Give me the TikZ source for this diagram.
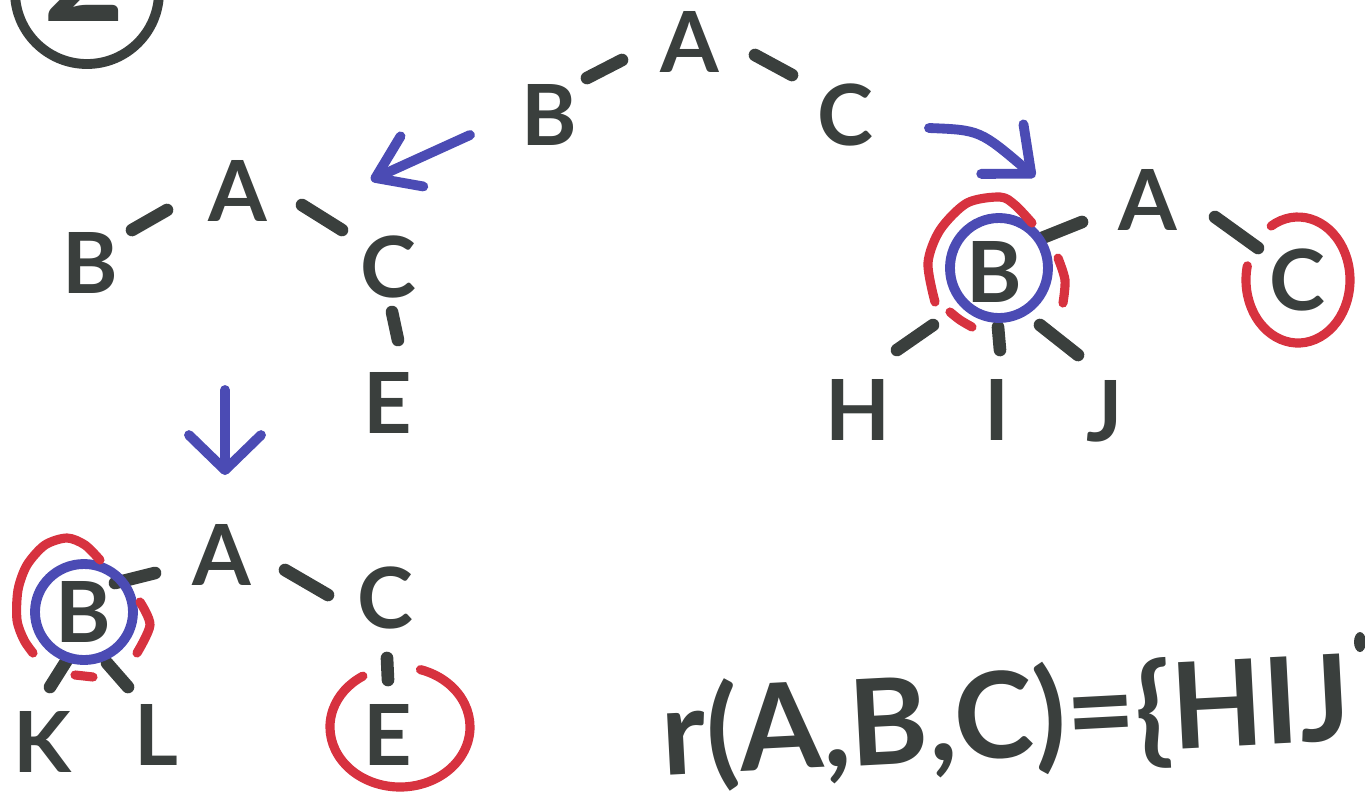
\documentclass[tikz,border=0pt]{standalone}
\usepackage{fontspec}
\setmainfont{Lato}
\usetikzlibrary{calc,arrows.meta}
\definecolor{inkc}{HTML}{3A3F3D}
\definecolor{bluec}{HTML}{4B4BB4}
\definecolor{redc}{HTML}{D7323F}
\tikzset{
  lett/.style={text=inkc, font=\fontsize{24}{28}\selectfont\bfseries, inner sep=0pt},
  formula/.style={text=inkc, font=\fontsize{34}{38}\selectfont\bfseries, inner sep=0pt},
  edge/.style={draw=inkc, line width=3.6pt, line cap=round},
  bstroke/.style={draw=bluec, line width=2.8pt, line cap=round, line join=round},
  rstroke/.style={draw=redc, line width=2.6pt, line cap=round, line join=round},
  kstroke/.style={draw=inkc, line width=2.8pt},
}
\begin{document}
\begin{tikzpicture}[x=0.01cm, y=-0.01cm]
\useasboundingbox (0,0) rectangle (1365,796);
% corner mark
\draw[kstroke] (87,-8) circle [radius=72];
\node[lett, font=\fontsize{40}{44}\selectfont\bfseries] (two) at (84,-30) {2};
% top tree
\node[lett] (tA) at (690,42) {A};
\node[lett] (tB) at (549,115) {B};
\node[lett] (tC) at (845,115) {C};
\draw[edge] ($(tB)+(38,-37)$) -- ($(tA)+(-68,18)$);
\draw[edge] ($(tA)+(65,13)$) -- ($(tC)+(-53,-40)$);
% middle-left tree
\node[lett] (mA) at (238,191) {A};
\node[lett] (mB) at (90,263) {B};
\node[lett] (mC) at (388,267) {C};
\node[lett] (mE) at (388,403) {E};
\draw[edge] ($(mB)+(42,-33)$) -- ($(mA)+(-71,19)$);
\draw[edge] ($(mA)+(64,14)$) -- ($(mC)+(-46,-37)$);
\draw[edge] ($(mC)+(4,45)$) -- ($(mE)+(10,-63)$);
% right tree
\node[lett] (rA) at (1148,200) {A};
\node[lett] (rB) at (994,272) {B};
\node[lett] (rC) at (1297,280) {C};
\node[lett] (rH) at (858,410) {H};
\node[lett] (rI) at (997,410) {I};
\node[lett] (rJ) at (1105,411) {J};
\draw[edge] ($(rB)+(48,-34)$) -- ($(rA)+(-66,22)$);
\draw[edge] ($(rA)+(67,17)$) -- ($(rC)+(-39,-32)$);
\draw[edge] ($(rB)+(-61,53)$) -- ($(rH)+(39,-60)$);
\draw[edge] ($(rB)+(4,55)$) -- ($(rI)+(3,-60)$);
\draw[edge] ($(rB)+(46,53)$) -- ($(rJ)+(-27,-56)$);
% bottom-left tree
\node[lett] (bA) at (222,555) {A};
\node[lett] (bB) at (83,612) {B};
\node[lett] (bC) at (385,598) {C};
\node[lett] (bE) at (388,735) {E};
\node[lett] (bK) at (42,742) {K};
\node[lett] (bL) at (156,735) {L};
\draw[edge] ($(bB)+(32,-29)$) -- ($(bA)+(-67,18)$);
\draw[edge] ($(bA)+(63,15)$) -- ($(bC)+(-57,-3)$);
\draw[edge] ($(bC)+(2,60)$) -- ($(bE)+(0,-55)$);
\draw[edge] ($(bB)+(-16,48)$) -- ($(bK)+(8,-55)$);
\draw[edge] ($(bB)+(24,51)$) -- ($(bL)+(-28,-48)$);
% blue arrows
\draw[bstroke, -{Straight Barb[round, length=0.4cm, width=0.55cm]}]
  ($(tB)+(-79,20)$) -- ($(mC)+(-17,-87)$);
\draw[bstroke, -{Straight Barb[round, length=0.38cm, width=0.65cm]}]
  ($(tC)+(84,13)$) .. controls ($(tC)+(135,15)$) .. ($(rB)+(41,-95)$);
\draw[bstroke, -{Straight Barb[round, length=0.35cm, width=0.72cm]}]
  ($(mA)+(-13,199)$) -- ($(bA)+(3,-80)$);
% blue circles
\draw[bstroke] ($(rB)+(5,-4)$) ellipse [x radius=49, y radius=50];
\draw[bstroke] ($(bB)+(1,0)$) ellipse [x radius=49, y radius=48];
% red marks around right B
\draw[rstroke] plot[smooth] coordinates {(1032,223) (1015,205) (1000,197) (967,203) (940,230) (928,263) (935,302)};
\draw[rstroke] plot[smooth] coordinates {(1058,258) (1065,280) (1063,303)};
\draw[rstroke] plot[smooth] coordinates {(950,312) (960,320) (972,327)};
% red marks around bottom B
\draw[rstroke] plot[smooth] coordinates {(100,560) (85,545) (67,538) (45,545) (27,565) (18,590) (17,620) (24,640) (33,653)};
\draw[rstroke] plot[smooth] coordinates {(140,602) (150,625) (137,653)};
\draw[rstroke] (75,675) -- (93,677);
% red circles
\draw[rstroke] ($(rC)+(1,0)$) ++(-121:52 and 63) arc[start angle=-121, end angle=193, x radius=52, y radius=63];
\draw[rstroke] ($(bE)+(12,-8)$) ++(-73:70 and 60) arc[start angle=-73, end angle=238, x radius=70, y radius=60];
% formula
\node[formula, anchor=base west, rotate=3] (fr) at (663,776) {r(A,B,C)=\{HIJ};
\fill[inkc] (1360,642) ellipse [x radius=6, y radius=10];
\end{tikzpicture}
\end{document}
